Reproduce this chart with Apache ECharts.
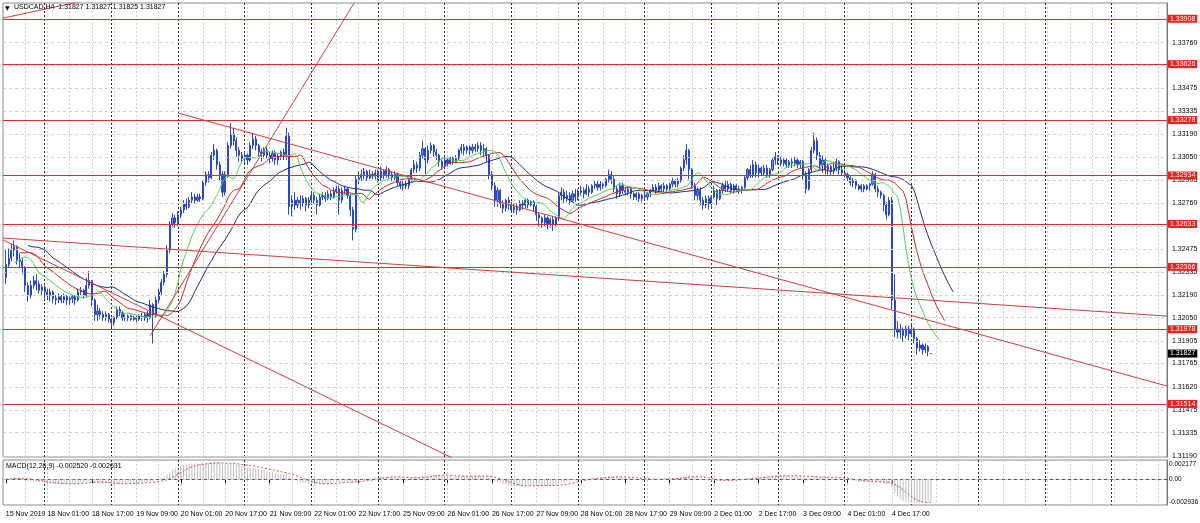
<!DOCTYPE html>
<html><head><meta charset="utf-8">
<script src="https://cdn.jsdelivr.net/npm/echarts@6/dist/echarts.min.js"></script>
<style>html,body{margin:0;padding:0;background:#fff;}#c{width:1200px;height:523px;}</style>
</head><body><div id="c"></div><script>
// ---------- data ----------
const symbolTitle = 'USDCAD,H4  1.31827 1.31827 1.31825 1.31827';
const macdTitle = 'MACD(12,26,9) -0.002520 -0.002631';
const priceTicks = [1.33905,1.33760,1.33620,1.33475,1.33335,1.33190,1.33050,1.32905,1.32760,1.32620,1.32475,1.32335,1.32190,1.32050,1.31905,1.31765,1.31620,1.31475,1.31335,1.31190];
const levels = [1.33908,1.33626,1.33278,1.32934,1.32633,1.32366,1.31978,1.31514];
const lastPrice = 1.31827;
const macdTicks = [0.002177, 0, -0.002936];
const priceRange = [1.31184, 1.34006];
const macdRange = [-0.002936, 0.002177];
const alligatorStart = [1.3251, 1.3247, 1.3240]; // jaw, teeth, lips before first bar
// trend lines: [category index, price] pairs
const trendLines = [
  [[0,1.33912],[40,1.34060]],
  [[53,1.31938],[140,1.34389]],
  [[63,1.33322],[419,1.31625]],
  [[0,1.32545],[419,1.32060]],
  [[0,1.32533],[170,1.31109]]
];
// hourly bars [open, high, low, close], first bar 15 Nov 2019 10:00
const bars = [
[1.3230,1.3247,1.3226,1.3238],[1.3238,1.3248,1.3236,1.3242],[1.3242,1.3251,1.3240,1.3247],[1.3247,1.3253,1.3243,1.3249],
[1.3249,1.3250,1.3238,1.3241],[1.3241,1.3245,1.3236,1.3240],[1.3240,1.3242,1.3232,1.3236],[1.3236,1.3237,1.3221,1.3225],
[1.3225,1.3227,1.3215,1.3219],[1.3219,1.3228,1.3217,1.3225],[1.3225,1.3231,1.3223,1.3228],[1.3228,1.3232,1.3222,1.3226],
[1.3226,1.3228,1.3220,1.3222],[1.3222,1.3226,1.3219,1.3224],[1.3224,1.3225,1.3217,1.3221],[1.3221,1.3223,1.3216,1.3219],
[1.3219,1.3223,1.3215,1.3221],[1.3221,1.3222,1.3214,1.3217],[1.3217,1.3219,1.3213,1.3216],[1.3216,1.3220,1.3214,1.3218],
[1.3218,1.3219,1.3214,1.3216],[1.3216,1.3220,1.3214,1.3218],[1.3218,1.3219,1.3213,1.3216],[1.3216,1.3218,1.3213,1.3217],
[1.3217,1.3219,1.3214,1.3218],[1.3218,1.3219,1.3213,1.3216],[1.3216,1.3223,1.3215,1.3221],[1.3221,1.3224,1.3219,1.3222],
[1.3222,1.3223,1.3217,1.3219],[1.3219,1.3230,1.3218,1.3225],[1.3225,1.3234,1.3223,1.3228],[1.3228,1.3228,1.3212,1.3216],
[1.3216,1.3217,1.3203,1.3207],[1.3207,1.3213,1.3203,1.3209],[1.3209,1.3211,1.3204,1.3207],[1.3207,1.3209,1.3203,1.3205],
[1.3205,1.3209,1.3203,1.3207],[1.3207,1.3208,1.3202,1.3204],[1.3204,1.3205,1.3199,1.3202],[1.3202,1.3206,1.3200,1.3205],
[1.3205,1.3212,1.3204,1.3210],[1.3210,1.3212,1.3206,1.3208],[1.3208,1.3209,1.3203,1.3205],[1.3205,1.3207,1.3203,1.3205],
[1.3205,1.3207,1.3203,1.3206],[1.3206,1.3207,1.3203,1.3204],[1.3204,1.3206,1.3203,1.3205],[1.3205,1.3206,1.3202,1.3204],
[1.3204,1.3207,1.3203,1.3206],[1.3206,1.3208,1.3203,1.3205],[1.3205,1.3208,1.3203,1.3207],[1.3207,1.3209,1.3202,1.3205],
[1.3205,1.3216,1.3204,1.3213],[1.3213,1.3214,1.3189,1.3207],[1.3207,1.3218,1.3205,1.3216],[1.3216,1.3223,1.3214,1.3221],
[1.3221,1.3229,1.3219,1.3227],[1.3227,1.3234,1.3225,1.3232],[1.3232,1.3250,1.3230,1.3247],[1.3247,1.3265,1.3245,1.3263],
[1.3263,1.3270,1.3261,1.3267],[1.3267,1.3269,1.3261,1.3264],[1.3264,1.3271,1.3262,1.3269],[1.3269,1.3274,1.3267,1.3272],
[1.3272,1.3278,1.3270,1.3276],[1.3276,1.3279,1.3272,1.3274],[1.3274,1.3280,1.3273,1.3278],[1.3278,1.3283,1.3276,1.3280],
[1.3280,1.3282,1.3276,1.3278],[1.3278,1.3282,1.3277,1.3280],[1.3280,1.3282,1.3277,1.3279],[1.3279,1.3290,1.3278,1.3289],
[1.3289,1.3296,1.3287,1.3294],[1.3294,1.3296,1.3289,1.3292],[1.3292,1.3308,1.3291,1.3306],[1.3306,1.3313,1.3303,1.3309],
[1.3309,1.3310,1.3297,1.3300],[1.3300,1.3302,1.3290,1.3294],[1.3294,1.3296,1.3280,1.3283],[1.3283,1.3296,1.3281,1.3294],
[1.3294,1.3314,1.3292,1.3312],[1.3312,1.3326,1.3310,1.3319],[1.3319,1.3323,1.3312,1.3315],[1.3315,1.3317,1.3305,1.3309],
[1.3309,1.3311,1.3302,1.3306],[1.3306,1.3308,1.3301,1.3304],[1.3304,1.3308,1.3301,1.3306],[1.3306,1.3307,1.3300,1.3303],
[1.3303,1.3314,1.3302,1.3312],[1.3312,1.3320,1.3310,1.3316],[1.3316,1.3318,1.3309,1.3312],[1.3312,1.3313,1.3305,1.3308],
[1.3308,1.3310,1.3302,1.3306],[1.3306,1.3311,1.3304,1.3309],[1.3309,1.3311,1.3304,1.3306],[1.3306,1.3308,1.3301,1.3304],
[1.3304,1.3309,1.3302,1.3307],[1.3307,1.3309,1.3300,1.3303],[1.3303,1.3307,1.3300,1.3305],[1.3305,1.3309,1.3303,1.3308],
[1.3308,1.3310,1.3303,1.3306],[1.3306,1.3323,1.3303,1.3318],[1.3318,1.3320,1.3269,1.3274],[1.3274,1.3281,1.3268,1.3278],
[1.3278,1.3283,1.3272,1.3275],[1.3275,1.3280,1.3273,1.3278],[1.3278,1.3281,1.3272,1.3276],[1.3276,1.3281,1.3274,1.3279],
[1.3279,1.3280,1.3271,1.3275],[1.3275,1.3280,1.3273,1.3278],[1.3278,1.3284,1.3276,1.3281],[1.3281,1.3283,1.3276,1.3278],
[1.3278,1.3280,1.3269,1.3275],[1.3275,1.3282,1.3274,1.3280],[1.3280,1.3283,1.3278,1.3281],[1.3281,1.3283,1.3277,1.3279],
[1.3279,1.3284,1.3278,1.3282],[1.3282,1.3284,1.3278,1.3280],[1.3280,1.3286,1.3279,1.3284],[1.3284,1.3287,1.3282,1.3285],
[1.3285,1.3287,1.3269,1.3278],[1.3278,1.3286,1.3276,1.3284],[1.3284,1.3287,1.3282,1.3285],[1.3285,1.3286,1.3279,1.3281],
[1.3281,1.3282,1.3268,1.3272],[1.3272,1.3274,1.3253,1.3260],[1.3260,1.3293,1.3258,1.3291],[1.3291,1.3296,1.3288,1.3292],
[1.3292,1.3297,1.3290,1.3294],[1.3294,1.3298,1.3291,1.3296],[1.3296,1.3297,1.3290,1.3292],[1.3292,1.3297,1.3291,1.3294],
[1.3294,1.3296,1.3291,1.3293],[1.3293,1.3297,1.3291,1.3295],[1.3295,1.3297,1.3289,1.3292],[1.3292,1.3299,1.3290,1.3296],
[1.3296,1.3297,1.3291,1.3294],[1.3294,1.3299,1.3292,1.3297],[1.3297,1.3298,1.3291,1.3294],[1.3294,1.3296,1.3290,1.3292],
[1.3292,1.3296,1.3290,1.3294],[1.3294,1.3295,1.3287,1.3289],[1.3289,1.3291,1.3285,1.3287],[1.3287,1.3290,1.3284,1.3288],
[1.3288,1.3290,1.3285,1.3287],[1.3287,1.3292,1.3285,1.3291],[1.3291,1.3298,1.3289,1.3297],[1.3297,1.3303,1.3295,1.3300],
[1.3300,1.3302,1.3295,1.3298],[1.3298,1.3308,1.3296,1.3306],[1.3306,1.3315,1.3304,1.3310],[1.3310,1.3311,1.3294,1.3303],
[1.3303,1.3312,1.3301,1.3309],[1.3309,1.3314,1.3307,1.3312],[1.3312,1.3313,1.3305,1.3308],[1.3308,1.3310,1.3303,1.3306],
[1.3306,1.3307,1.3299,1.3302],[1.3302,1.3304,1.3297,1.3299],[1.3299,1.3305,1.3298,1.3303],[1.3303,1.3305,1.3299,1.3301],
[1.3301,1.3305,1.3300,1.3304],[1.3304,1.3305,1.3300,1.3302],[1.3302,1.3306,1.3301,1.3304],[1.3304,1.3310,1.3303,1.3309],
[1.3309,1.3313,1.3307,1.3311],[1.3311,1.3313,1.3306,1.3309],[1.3309,1.3312,1.3307,1.3311],[1.3311,1.3312,1.3306,1.3309],
[1.3309,1.3313,1.3307,1.3311],[1.3311,1.3313,1.3308,1.3310],[1.3310,1.3314,1.3308,1.3312],[1.3312,1.3314,1.3306,1.3309],
[1.3309,1.3313,1.3305,1.3310],[1.3310,1.3311,1.3302,1.3306],[1.3306,1.3306,1.3291,1.3294],[1.3294,1.3296,1.3284,1.3287],
[1.3287,1.3289,1.3274,1.3278],[1.3278,1.3286,1.3274,1.3284],[1.3284,1.3285,1.3273,1.3276],[1.3276,1.3278,1.3270,1.3273],
[1.3273,1.3279,1.3271,1.3278],[1.3278,1.3280,1.3272,1.3275],[1.3275,1.3277,1.3270,1.3272],[1.3272,1.3276,1.3270,1.3274],
[1.3274,1.3276,1.3269,1.3272],[1.3272,1.3278,1.3271,1.3276],[1.3276,1.3278,1.3272,1.3275],[1.3275,1.3279,1.3273,1.3278],
[1.3278,1.3279,1.3273,1.3275],[1.3275,1.3278,1.3274,1.3277],[1.3277,1.3278,1.3271,1.3274],[1.3274,1.3275,1.3265,1.3269],
[1.3269,1.3270,1.3262,1.3267],[1.3267,1.3268,1.3261,1.3264],[1.3264,1.3269,1.3262,1.3267],[1.3267,1.3268,1.3260,1.3263],
[1.3263,1.3267,1.3261,1.3266],[1.3266,1.3268,1.3259,1.3263],[1.3263,1.3268,1.3261,1.3267],[1.3267,1.3283,1.3265,1.3281],
[1.3281,1.3286,1.3278,1.3283],[1.3283,1.3285,1.3276,1.3279],[1.3279,1.3284,1.3277,1.3281],[1.3281,1.3283,1.3275,1.3278],
[1.3278,1.3284,1.3277,1.3282],[1.3282,1.3285,1.3277,1.3280],[1.3280,1.3285,1.3278,1.3283],[1.3283,1.3287,1.3281,1.3284],
[1.3284,1.3286,1.3279,1.3282],[1.3282,1.3288,1.3281,1.3285],[1.3285,1.3287,1.3280,1.3283],[1.3283,1.3288,1.3282,1.3287],
[1.3287,1.3290,1.3285,1.3288],[1.3288,1.3290,1.3284,1.3286],[1.3286,1.3290,1.3284,1.3288],[1.3288,1.3289,1.3285,1.3287],
[1.3287,1.3292,1.3286,1.3291],[1.3291,1.3297,1.3289,1.3294],[1.3294,1.3296,1.3288,1.3291],[1.3291,1.3293,1.3283,1.3285],
[1.3285,1.3287,1.3279,1.3282],[1.3282,1.3289,1.3280,1.3287],[1.3287,1.3289,1.3282,1.3284],[1.3284,1.3286,1.3281,1.3283],
[1.3283,1.3287,1.3281,1.3285],[1.3285,1.3286,1.3279,1.3282],[1.3282,1.3283,1.3278,1.3280],[1.3280,1.3283,1.3278,1.3282],
[1.3282,1.3283,1.3277,1.3279],[1.3279,1.3282,1.3277,1.3281],[1.3281,1.3283,1.3278,1.3280],[1.3280,1.3283,1.3278,1.3282],
[1.3282,1.3285,1.3280,1.3284],[1.3284,1.3288,1.3283,1.3286],[1.3286,1.3288,1.3282,1.3284],[1.3284,1.3289,1.3283,1.3287],
[1.3287,1.3288,1.3283,1.3285],[1.3285,1.3289,1.3283,1.3287],[1.3287,1.3288,1.3283,1.3285],[1.3285,1.3289,1.3284,1.3288],
[1.3288,1.3292,1.3286,1.3290],[1.3290,1.3291,1.3286,1.3288],[1.3288,1.3292,1.3286,1.3290],[1.3290,1.3299,1.3289,1.3298],
[1.3298,1.3306,1.3296,1.3303],[1.3303,1.3313,1.3300,1.3309],[1.3309,1.3310,1.3291,1.3297],[1.3297,1.3298,1.3285,1.3287],
[1.3287,1.3289,1.3278,1.3281],[1.3281,1.3286,1.3278,1.3284],[1.3284,1.3286,1.3275,1.3278],[1.3278,1.3280,1.3272,1.3275],
[1.3275,1.3281,1.3273,1.3279],[1.3279,1.3281,1.3272,1.3276],[1.3276,1.3281,1.3274,1.3280],[1.3280,1.3287,1.3279,1.3284],
[1.3284,1.3285,1.3275,1.3279],[1.3279,1.3285,1.3278,1.3284],[1.3284,1.3289,1.3282,1.3287],[1.3287,1.3290,1.3283,1.3285],
[1.3285,1.3290,1.3283,1.3288],[1.3288,1.3289,1.3282,1.3284],[1.3284,1.3288,1.3282,1.3287],[1.3287,1.3288,1.3283,1.3285],
[1.3285,1.3287,1.3282,1.3284],[1.3284,1.3287,1.3282,1.3286],[1.3286,1.3293,1.3285,1.3292],[1.3292,1.3298,1.3290,1.3297],
[1.3297,1.3300,1.3292,1.3294],[1.3294,1.3303,1.3292,1.3300],[1.3300,1.3302,1.3292,1.3295],[1.3295,1.3300,1.3292,1.3298],
[1.3298,1.3299,1.3293,1.3295],[1.3295,1.3300,1.3293,1.3298],[1.3298,1.3300,1.3292,1.3294],[1.3294,1.3298,1.3292,1.3297],
[1.3297,1.3304,1.3296,1.3303],[1.3303,1.3308,1.3300,1.3305],[1.3305,1.3306,1.3300,1.3303],[1.3303,1.3305,1.3299,1.3301],
[1.3301,1.3304,1.3299,1.3303],[1.3303,1.3304,1.3298,1.3300],[1.3300,1.3303,1.3298,1.3302],[1.3302,1.3304,1.3298,1.3301],
[1.3301,1.3305,1.3299,1.3303],[1.3303,1.3304,1.3298,1.3300],[1.3300,1.3303,1.3298,1.3302],[1.3302,1.3303,1.3291,1.3294],
[1.3294,1.3296,1.3282,1.3285],[1.3285,1.3298,1.3284,1.3297],[1.3297,1.3311,1.3295,1.3309],[1.3309,1.3320,1.3307,1.3315],
[1.3315,1.3317,1.3303,1.3306],[1.3306,1.3308,1.3297,1.3300],[1.3300,1.3306,1.3295,1.3303],[1.3303,1.3304,1.3294,1.3297],
[1.3297,1.3301,1.3294,1.3299],[1.3299,1.3300,1.3293,1.3296],[1.3296,1.3301,1.3294,1.3298],[1.3298,1.3304,1.3296,1.3302],
[1.3302,1.3303,1.3294,1.3297],[1.3297,1.3299,1.3293,1.3295],[1.3295,1.3297,1.3292,1.3294],[1.3294,1.3295,1.3290,1.3292],
[1.3292,1.3293,1.3287,1.3289],[1.3289,1.3292,1.3286,1.3290],[1.3290,1.3291,1.3285,1.3287],[1.3287,1.3288,1.3284,1.3285],
[1.3285,1.3288,1.3283,1.3287],[1.3287,1.3288,1.3283,1.3285],[1.3285,1.3288,1.3284,1.3287],[1.3287,1.3289,1.3284,1.3288],
[1.3288,1.3296,1.3287,1.3294],[1.3294,1.3295,1.3283,1.3285],[1.3285,1.3287,1.3280,1.3283],[1.3283,1.3284,1.3279,1.3281],
[1.3281,1.3282,1.3271,1.3275],[1.3275,1.3277,1.3266,1.3269],[1.3269,1.3280,1.3268,1.3278],[1.3278,1.3280,1.3210,1.3216],
[1.3216,1.3232,1.3193,1.3198],[1.3198,1.3203,1.3192,1.3196],[1.3196,1.3201,1.3192,1.3197],[1.3197,1.3199,1.3190,1.3194],
[1.3194,1.3200,1.3192,1.3198],[1.3198,1.3200,1.3191,1.3195],[1.3195,1.3201,1.3193,1.3197],[1.3197,1.3199,1.3189,1.3192],
[1.3192,1.3193,1.3182,1.3186],[1.3186,1.3191,1.3184,1.3188],[1.3188,1.3189,1.3182,1.3185],[1.3185,1.3189,1.3183,1.3187],
[1.3187,1.3188,1.3181,1.3184],[1.31827,1.31827,1.31825,1.31827]
];

// ---------- time categories (hourly, weekends skipped) ----------
const MONTHS = ['Jan','Feb','Mar','Apr','May','Jun','Jul','Aug','Sep','Oct','Nov','Dec'];
const N_CATS = 420;
const cats = [], catHours = [];
(function(){
  let t = Date.UTC(2019, 10, 15, 9);
  while (cats.length < N_CATS) {
    const d = new Date(t), wd = d.getUTCDay();
    if (wd !== 0 && wd !== 6) {
      const h = d.getUTCHours();
      cats.push(d.getUTCDate() + ' ' + MONTHS[d.getUTCMonth()] + ' ' + (h < 10 ? '0' : '') + h + ':00');
      catHours.push(h);
    }
    t += 3600000;
  }
})();
const lastCat = bars.length; // category index of last bar
const showLabel = i => i === 1 || (i >= 16 && i <= lastCat && (i - 16) % 16 === 0);
const lightGrid = i => i > 0 && i % 8 === 0;
const daySep = i => catHours[i] === 0;

// ---------- indicators ----------
const median = bars.map(b => (b[1] + b[2]) / 2);
function smma(n, seed) { let p = seed; return median.map(v => (p = (p * (n - 1) + v) / n)); }
const jaw = smma(13, alligatorStart[0]), teeth = smma(8, alligatorStart[1]), lips = smma(5, alligatorStart[2]);
const shifted = (arr, s) => arr.map((v, i) => [i + 1 + s, v]);
const closes = bars.map(b => b[3]);
function ema(n) { const k = 2 / (n + 1); let p = closes[0]; return closes.map(v => (p = p + k * (v - p))); }
const e12 = ema(12), e26 = ema(26);
const macdMain = e12.map((v, i) => v - e26[i]);
const macdSignal = macdMain.map((v, i) => { const w = macdMain.slice(Math.max(0, i - 8), i + 1); return w.reduce((a, b) => a + b, 0) / w.length; });

// ---------- chart ----------
const FONT = 'Liberation Sans';
const NOLINE = 'rgba(0,0,0,0)';
const chart = echarts.init(document.getElementById('c'), null, {renderer: 'canvas'});
const xBase = {type: 'category', data: cats, boundaryGap: false, axisLine: {show: false}, axisTick: {show: false}, axisLabel: {show: false}};
const lightSplit = {show: true, interval: (i) => lightGrid(i), lineStyle: {color: '#cfcfcf', type: [2, 2], width: 1}};
const darkSplit = {show: true, interval: (i) => daySep(i), lineStyle: {color: '#2a2a2a', type: [2, 2], width: 1}};
const fmt5 = v => v.toFixed(5);

const series = [
  {
    type: 'line', xAxisIndex: 0, yAxisIndex: 0, data: [], silent: true, z: 1,
    markLine: {
      silent: true, symbol: ['none', 'none'], animation: false, precision: 5,
      lineStyle: {color: '#cfcfcf', type: [3, 3], width: 1},
      label: {position: 'end', distance: 5, color: '#000', fontSize: 7, fontFamily: FONT, formatter: p => fmt5(p.value)},
      data: priceTicks.map(v => ({yAxis: v}))
    }
  },
  {
    type: 'candlestick', xAxisIndex: 0, yAxisIndex: 0, z: 3,
    data: bars.map((b, i) => [i + 1, b[0], b[3], b[2], b[1]]),
    encode: {x: 0, y: [1, 2, 3, 4]},
    barWidth: 1.6,
    itemStyle: {color: '#7088d6', color0: '#2848c4', borderColor: '#2848c4', borderColor0: '#2848c4', borderWidth: 1}
  },
  {type: 'line', xAxisIndex: 0, yAxisIndex: 0, z: 4, data: shifted(jaw, 8), symbol: 'none', lineStyle: {color: '#23238e', width: 1}},
  {type: 'line', xAxisIndex: 0, yAxisIndex: 0, z: 4, data: shifted(teeth, 5), symbol: 'none', lineStyle: {color: '#c8281e', width: 1}},
  {type: 'line', xAxisIndex: 0, yAxisIndex: 0, z: 4, data: shifted(lips, 3), symbol: 'none', lineStyle: {color: '#4fd24f', width: 1}}
];
trendLines.forEach(tl => series.push({
  type: 'line', xAxisIndex: 0, yAxisIndex: 0, z: 5, clip: true, symbol: 'none', silent: true,
  data: tl, lineStyle: {color: '#d23c3c', width: 1}
}));
series.push({
  type: 'line', xAxisIndex: 0, yAxisIndex: 0, data: [], silent: true, z: 6,
  markLine: {
    silent: true, symbol: ['none', 'none'], animation: false, precision: 5,
    lineStyle: {color: '#d03232', type: 'solid', width: 1},
    label: {position: 'end', distance: 1, color: '#fff', backgroundColor: '#e8221c', padding: [1, 2, 0, 2], fontSize: 7, fontFamily: FONT, formatter: p => fmt5(p.value)},
    data: levels.map(v => ({yAxis: v}))
  }
});
series.push({
  type: 'line', xAxisIndex: 0, yAxisIndex: 0, data: [], silent: true, z: 7,
  markLine: {
    silent: true, symbol: ['none', 'none'], animation: false, precision: 5,
    lineStyle: {color: NOLINE, width: 0},
    label: {position: 'end', distance: 1, color: '#fff', backgroundColor: '#000', padding: [1, 2, 0, 2], fontSize: 7, fontFamily: FONT, formatter: p => fmt5(p.value)},
    data: [{yAxis: lastPrice}]
  }
});
// MACD panel
series.push({
  type: 'line', xAxisIndex: 2, yAxisIndex: 1, data: [], silent: true, z: 1,
  markLine: {
    silent: true, symbol: ['none', 'none'], animation: false, precision: 6,
    lineStyle: {color: '#cfcfcf', type: [3, 3], width: 1},
    label: {position: 'end', distance: 2, color: '#000', fontSize: 6.5, fontFamily: FONT,
      formatter: p => p.value === 0 ? '0.00' : p.value.toFixed(6)},
    data: macdTicks.map((v, i) => ({yAxis: v, lineStyle: v === 0 ? {} : {color: NOLINE, width: 0},
      label: {offset: [0, i === 0 ? 4 : (i === 2 ? -3 : 0)]}}))
  }
});
series.push({
  type: 'bar', xAxisIndex: 2, yAxisIndex: 1, z: 2, barWidth: 1, silent: true,
  data: macdMain.map((v, i) => [i + 1, v]), itemStyle: {color: '#bdbdbd'}
});
series.push({
  type: 'line', xAxisIndex: 2, yAxisIndex: 1, z: 3, symbol: 'none', silent: true,
  data: macdSignal.map((v, i) => [i + 1, v]), lineStyle: {color: '#d04a4a', width: 1, type: [2, 2]}
});

chart.setOption({
  animation: false,
  backgroundColor: '#fff',
  textStyle: {fontFamily: FONT},
  grid: [
    {left: 3, right: 33, top: 3, height: 454, show: true, borderColor: '#8c8c8c', borderWidth: 1},
    {left: 3, right: 33, top: 460, height: 45, show: true, borderColor: '#8c8c8c', borderWidth: 1}
  ],
  xAxis: [
    Object.assign({}, xBase, {gridIndex: 0, splitLine: lightSplit}),
    Object.assign({}, xBase, {gridIndex: 0, splitLine: darkSplit}),
    Object.assign({}, xBase, {
      gridIndex: 1, splitLine: lightSplit,
      axisLine: {show: true, lineStyle: {color: '#555'}},
      axisTick: {show: true, interval: (i) => showLabel(i), length: 4, lineStyle: {color: '#000'}},
      axisLabel: {show: true, interval: (i) => showLabel(i), showMinLabel: true, showMaxLabel: true, hideOverlap: false,
        formatter: (v, i) => i === 1 ? '15 Nov 2019' : v, align: 'left', margin: 6, fontSize: 7, color: '#000', fontFamily: FONT}
    }),
    Object.assign({}, xBase, {gridIndex: 1, splitLine: darkSplit})
  ],
  yAxis: [
    {type: 'value', gridIndex: 0, position: 'right', min: priceRange[0], max: priceRange[1],
      axisLine: {show: true, lineStyle: {color: '#777'}}, axisTick: {show: false}, axisLabel: {show: false}, splitLine: {show: false}},
    {type: 'value', gridIndex: 1, position: 'right', min: macdRange[0], max: macdRange[1],
      axisLine: {show: true, lineStyle: {color: '#777'}}, axisTick: {show: false}, axisLabel: {show: false}, splitLine: {show: false}}
  ],
  graphic: [
    {type: 'text', left: 5, top: 5, z: 100, style: {text: '▼', font: '6px "DejaVu Sans"', fill: '#000'}},
    {type: 'text', left: 14, top: 4, z: 100, style: {text: symbolTitle, font: '7px "Liberation Sans"', fill: '#000'}},
    {type: 'text', left: 6, top: 463, z: 100, style: {text: macdTitle, font: '7px "Liberation Sans"', fill: '#000'}}
  ],
  series: series
});
</script></body></html>
